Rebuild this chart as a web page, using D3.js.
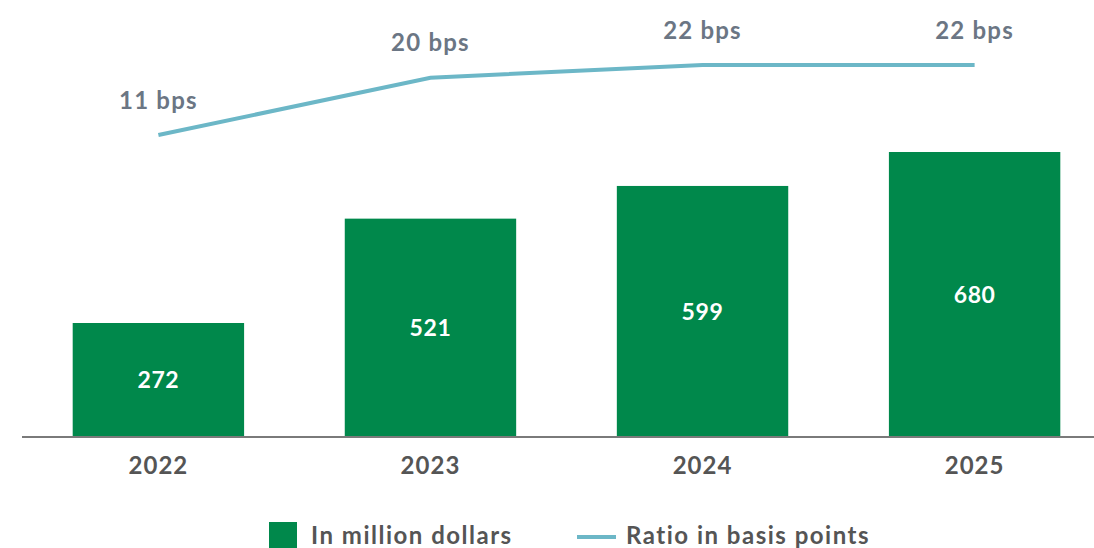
<!DOCTYPE html>
<html>
<head>
<meta charset="utf-8">
<script src="https://cdn.jsdelivr.net/npm/d3@7"></script>
<style>
  body { margin: 0; background: #fff; }
  svg { display: block; font-family: Lato, "Open Sans", sans-serif; }
</style>
</head>
<body>
<div id="chart"></div>
<script>
// Chart data
const years = ["2022", "2023", "2024", "2025"];
const amounts = [272, 521, 599, 680];      // in million dollars
const ratios = [11, 20, 22, 22];           // basis points
const legendLabels = ["In million dollars", "Ratio in basis points"];

const width = 1094;
const height = 548;
const baseline = 437;

const svg = d3.select("#chart")
  .append("svg")
  .attr("width", width)
  .attr("height", height);

// Scales
const x = d3.scaleBand()
  .domain(years)
  .range([21, 1112])
  .paddingInner(0.37)
  .paddingOuter(0.19);

const y = d3.scaleLinear()
  .domain([0, 680])
  .range([baseline, 152]);

const yRatio = d3.scaleLinear()
  .domain([11, 22])
  .range([135, 65]);

const green = "#00884b";
const teal = "#6cb7c7";

// Bars
svg.selectAll(".bar")
  .data(years)
  .enter()
  .append("rect")
  .attr("x", d => x(d))
  .attr("y", (d, i) => y(amounts[i]))
  .attr("width", x.bandwidth())
  .attr("height", (d, i) => baseline - y(amounts[i]))
  .attr("fill", green);

// Bar value labels
svg.selectAll(".bar-label")
  .data(years)
  .enter()
  .append("text")
  .attr("x", d => x(d) + x.bandwidth() / 2)
  .attr("y", (d, i) => (y(amounts[i]) + baseline) / 2)
  .attr("dy", "0.36em")
  .attr("text-anchor", "middle")
  .attr("fill", "#fff")
  .attr("font-size", 23)
  .attr("font-weight", 700)
  .attr("letter-spacing", 0.6)
  .text((d, i) => amounts[i]);

// Baseline axis
const xAxis = svg.append("g")
  .attr("transform", `translate(0,${baseline})`)
  .call(d3.axisBottom(x).tickSize(0).tickPadding(20));

xAxis.select(".domain")
  .attr("stroke", "#7a7a7a")
  .attr("stroke-width", 2)
  .attr("d", `M22,0H${width}`);

xAxis.selectAll("text")
  .attr("font-family", "Lato, 'Open Sans', sans-serif")
  .attr("font-size", 24)
  .attr("font-weight", 700)
  .attr("letter-spacing", 1)
  .attr("fill", "#555")
  .attr("dy", "0.71em");

// Ratio line
const line = d3.line()
  .x((d, i) => x(years[i]) + x.bandwidth() / 2)
  .y(d => yRatio(d));

svg.append("path")
  .datum(ratios)
  .attr("d", line)
  .attr("fill", "none")
  .attr("stroke", teal)
  .attr("stroke-width", 4);

// Ratio labels
svg.selectAll(".ratio-label")
  .data(ratios)
  .enter()
  .append("text")
  .attr("x", (d, i) => x(years[i]) + x.bandwidth() / 2)
  .attr("y", d => yRatio(d) - 35)
  .attr("dy", "0.36em")
  .attr("text-anchor", "middle")
  .attr("fill", "#6b7684")
  .attr("font-size", 24)
  .attr("font-weight", 700)
  .attr("letter-spacing", 1.2)
  .text(d => d + " bps");

// Legend
const legend = svg.append("g");

legend.append("rect")
  .attr("x", 269)
  .attr("y", 522)
  .attr("width", 28)
  .attr("height", 28)
  .attr("fill", green);

legend.append("text")
  .attr("x", 311)
  .attr("y", 544)
  .attr("font-size", 24)
  .attr("font-weight", 700)
  .attr("letter-spacing", 1.5)
  .attr("fill", "#555")
  .text(legendLabels[0]);

legend.append("line")
  .attr("x1", 577)
  .attr("x2", 616)
  .attr("y1", 537)
  .attr("y2", 537)
  .attr("stroke", teal)
  .attr("stroke-width", 4);

legend.append("text")
  .attr("x", 626)
  .attr("y", 544)
  .attr("font-size", 24)
  .attr("font-weight", 700)
  .attr("letter-spacing", 1.5)
  .attr("fill", "#555")
  .text(legendLabels[1]);
</script>
</body>
</html>
